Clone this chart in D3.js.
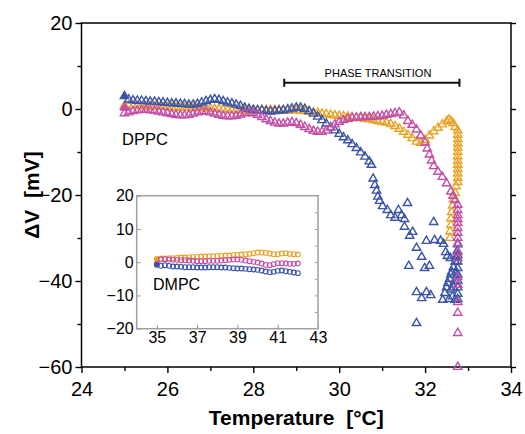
<!DOCTYPE html>
<html>
<head>
<meta charset="utf-8">
<script src="https://cdn.jsdelivr.net/npm/d3@7"></script>
<style>
  body { margin: 0; background: #fff; }
  text { font-family: Arial, "Liberation Sans", sans-serif; fill: #000; }
</style>
</head>
<body>
<svg id="chart" width="525" height="434"></svg>
<script>
// DPPC main panel, [temperature, dV]
const dppcOrange = [
  [25.0, 0.8], [25.1, 0.8], [25.2, 0.7], [25.3, 0.7], [25.4, 0.6], [25.5, 0.6], [25.6, 0.6], [25.7, 0.5],
  [25.8, 0.5], [25.9, 0.5], [26.0, 0.5], [26.1, 0.4], [26.2, 0.4], [26.3, 0.3], [26.4, 0.3], [26.5, 0.3],
  [26.6, 0.2], [26.7, 0.2], [26.8, 0.2], [26.9, 0.2], [27.0, 0.1], [27.1, 0.0], [27.2, 0.0], [27.3, -0.1],
  [27.4, -0.1], [27.5, -0.2], [27.6, -0.2], [27.7, -0.3], [27.8, -0.3], [27.9, -0.3], [28.0, -0.3], [28.1, -0.3],
  [28.2, -0.2], [28.3, -0.2], [28.4, -0.2], [28.5, -0.2], [28.6, -0.2], [28.7, -0.3], [28.8, -0.3], [28.9, -0.3],
  [29.0, -0.3], [29.1, -0.4], [29.2, -0.5], [29.3, -0.6], [29.4, -0.8], [29.5, -0.9], [29.6, -1.1], [29.7, -1.2],
  [29.8, -1.4], [29.9, -1.5], [30.0, -1.6], [30.1, -1.7], [30.2, -1.8], [30.3, -1.9], [30.4, -2.0], [30.5, -2.1],
  [30.6, -2.3], [30.7, -2.4], [30.8, -2.6], [30.9, -2.8], [31.0, -3.0], [31.1, -3.2], [31.2, -3.5], [31.3, -4.0],
  [31.4, -4.6], [31.5, -5.3], [31.6, -6.0], [31.7, -6.8], [31.8, -7.6], [31.9, -7.9], [32.0, -7.2], [32.1, -6.2],
  [32.2, -5.2], [32.3, -4.4], [32.4, -3.6], [32.5, -2.9], [32.55, -2.5], [32.6, -2.8], [32.65, -3.3], [32.7, -4.2],
  [32.76, -5.0], [32.76, -6.0], [32.76, -7.0], [32.76, -8.0], [32.76, -9.0], [32.76, -10.0], [32.76, -11.0],
  [32.76, -12.0], [32.76, -13.0], [32.76, -14.0], [32.76, -15.0], [32.76, -16.0], [32.76, -17.0],
  [32.72, -18.0], [32.7, -19.5], [32.66, -21.0], [32.64, -22.5], [32.62, -24.0], [32.6, -25.5],
  [32.6, -27.0], [32.58, -28.5], [32.58, -30.0]
];

const dppcBlue = [
  [25.0, 3.0], [25.1, 2.2], [25.2, 2.0], [25.3, 1.9], [25.4, 1.9], [25.5, 1.8], [25.6, 1.7], [25.7, 1.7],
  [25.8, 1.6], [25.9, 1.5], [26.0, 1.4], [26.1, 1.3], [26.2, 1.3], [26.3, 1.2], [26.4, 1.1], [26.5, 1.0],
  [26.6, 1.0], [26.7, 1.2], [26.8, 1.5], [26.9, 1.8], [27.0, 2.1], [27.1, 2.3], [27.2, 2.1], [27.3, 1.8],
  [27.4, 1.5], [27.5, 1.3], [27.6, 1.0], [27.7, 0.7], [27.8, 0.3], [27.9, 0.0], [28.0, -0.2], [28.1, -0.3],
  [28.2, -0.3], [28.3, -0.5], [28.4, -0.6], [28.5, -0.5], [28.6, -0.4], [28.7, -0.3], [28.8, -0.1], [28.9, 0.1],
  [29.0, 0.3], [29.1, 0.3], [29.2, 0.0], [29.3, -0.5], [29.4, -1.1], [29.5, -1.8], [29.6, -2.6], [29.7, -3.4],
  [29.8, -4.3], [29.9, -5.0], [30.0, -5.8], [30.1, -6.6], [30.2, -7.3], [30.3, -8.2], [30.4, -9.1], [30.5, -10.1],
  [30.6, -11.1], [30.7, -12.2], [30.75, -13.0],
  [30.79, -16.2], [30.83, -17.7], [30.87, -19.0], [30.9, -20.4], [30.94, -21.4], [31.01, -22.6], [31.12, -23.5],
  [31.2, -24.7], [31.3, -25.3], [31.38, -23.5], [31.45, -24.7], [31.52, -25.6], [31.52, -27.4], [31.59, -21.9],
  [31.62, -36.5], [31.64, -29.5], [31.71, -28.6], [31.8, -32.3], [31.8, -42.6], [31.8, -49.8], [31.92, -34.4],
  [31.92, -44.0], [31.99, -37.0], [32.03, -30.7], [32.03, -42.6], [32.1, -36.5], [32.13, -43.3], [32.2, -26.3],
  [32.22, -30.5], [32.36, -30.7], [32.43, -31.4], [32.48, -33.3], [32.52, -34.2], [32.59, -34.7],
  [32.41, -44.4], [32.46, -42.8], [32.5, -41.5], [32.53, -40.5], [32.57, -39.5], [32.6, -38.5], [32.62, -37.9],
  [32.66, -36.8], [32.7, -35.5], [32.72, -34.5], [32.75, -33.0], [32.76, -31.5], [32.76, -34.0], [32.76, -35.5],
  [32.76, -37.0], [32.76, -38.5], [32.76, -40.0], [32.76, -41.5], [32.76, -43.0], [32.76, -44.2], [32.7, -44.4],
  [32.64, -43.6], [32.56, -44.2], [32.7, -40.0], [32.66, -41.5], [32.72, -38.0], [32.6, -42.0]
];

const dppcMagenta = [
  [25.0, 0.3], [25.0, -1.0], [25.1, -0.8], [25.2, -0.5], [25.3, -0.3], [25.4, -0.2], [25.5, -0.2], [25.6, -0.3],
  [25.7, -0.4], [25.8, -0.6], [25.9, -0.8], [26.0, -1.0], [26.1, -1.2], [26.2, -1.4], [26.3, -1.5], [26.4, -1.5],
  [26.5, -1.4], [26.6, -1.1], [26.7, -0.8], [26.8, -0.6], [26.9, -0.6], [27.0, -0.8], [27.1, -1.1], [27.2, -1.4],
  [27.3, -1.6], [27.4, -1.7], [27.5, -1.7], [27.6, -1.6], [27.7, -1.3], [27.8, -1.0], [27.9, -0.9], [28.0, -1.0],
  [28.1, -1.4], [28.2, -1.9], [28.3, -2.4], [28.4, -2.8], [28.5, -3.2], [28.6, -3.4], [28.7, -3.4], [28.8, -3.2],
  [28.9, -3.1], [29.0, -3.3], [29.1, -3.7], [29.2, -4.2], [29.3, -4.7], [29.4, -5.1], [29.5, -5.3], [29.6, -5.3],
  [29.7, -5.0], [29.8, -4.3], [29.9, -3.6], [30.0, -3.0], [30.1, -2.6], [30.2, -2.3], [30.3, -2.1], [30.4, -2.0],
  [30.5, -1.9], [30.6, -1.9], [30.7, -1.9], [30.8, -1.8], [30.9, -1.7], [31.0, -1.6], [31.1, -1.4], [31.2, -1.2],
  [31.3, -1.0], [31.4, -0.8], [31.5, -1.5], [31.6, -2.8], [31.7, -3.7], [31.8, -4.8], [31.9, -6.2], [32.0, -7.8],
  [32.05, -9.2], [32.1, -10.6], [32.15, -12.0], [32.2, -13.3], [32.3, -14.6], [32.4, -15.8], [32.5, -17.3],
  [32.6, -19.2], [32.65, -20.2], [32.7, -21.2],
  [32.76, -22.3], [32.76, -23.5], [32.76, -24.7], [32.76, -25.6], [32.76, -26.5], [32.76, -27.7], [32.76, -28.8],
  [32.76, -30.0], [32.76, -31.2], [32.76, -33.3], [32.76, -34.7], [32.76, -39.1], [32.76, -40.9], [32.76, -44.9],
  [32.76, -47.4], [32.76, -52.1], [32.76, -60.0]
];

// DMPC inset, [temperature, dV]
const dmpcOrange = [
  [35.0, 1.0], [35.2, 1.1], [35.4, 1.1], [35.6, 1.2], [35.8, 1.2], [36.0, 1.3], [36.2, 1.4], [36.4, 1.4],
  [36.6, 1.5], [36.8, 1.6], [37.0, 1.6], [37.2, 1.7], [37.4, 1.7], [37.6, 1.8], [37.8, 1.8], [38.0, 1.9],
  [38.2, 1.9], [38.4, 2.0], [38.6, 2.0], [38.8, 2.1], [39.0, 2.2], [39.2, 2.3], [39.4, 2.4], [39.6, 2.5],
  [39.8, 2.7], [40.0, 2.9], [40.2, 2.9], [40.4, 2.8], [40.6, 2.6], [40.8, 2.4], [41.0, 2.4], [41.2, 2.6],
  [41.4, 2.7], [41.6, 2.5], [41.8, 2.4], [42.0, 2.3]
];
const dmpcMagenta = [
  [35.0, -0.5], [35.2, 0.8], [35.4, 0.9], [35.6, 0.8], [35.8, 0.7], [36.0, 0.7], [36.2, 0.6], [36.4, 0.6],
  [36.6, 0.5], [36.8, 0.4], [37.0, 0.3], [37.2, 0.3], [37.4, 0.3], [37.6, 0.4], [37.8, 0.4], [38.0, 0.4],
  [38.2, 0.5], [38.4, 0.6], [38.6, 0.7], [38.8, 0.8], [39.0, 0.8], [39.2, 0.7], [39.4, 0.5], [39.6, 0.3],
  [39.8, 0.1], [40.0, -0.1], [40.2, -0.4], [40.4, -0.8], [40.6, -0.9], [40.8, -0.6], [41.0, -0.3], [41.2, -0.3],
  [41.4, -0.4], [41.6, -0.5], [41.8, -0.5], [42.0, -0.4]
];
const dmpcBlue = [
  [35.0, -0.8], [35.2, -1.1], [35.4, -0.9], [35.6, -1.1], [35.8, -1.3], [36.0, -1.3], [36.2, -1.4], [36.4, -1.5],
  [36.6, -1.5], [36.8, -1.5], [37.0, -1.6], [37.2, -1.6], [37.4, -1.6], [37.6, -1.5], [37.8, -1.5], [38.0, -1.5],
  [38.2, -1.6], [38.4, -1.6], [38.6, -1.7], [38.8, -1.8], [39.0, -1.9], [39.2, -1.9], [39.4, -2.0], [39.6, -2.1],
  [39.8, -2.2], [40.0, -2.3], [40.2, -2.5], [40.4, -2.8], [40.6, -3.0], [40.8, -2.9], [41.0, -2.6], [41.2, -2.5],
  [41.4, -2.7], [41.6, -2.9], [41.8, -3.1], [42.0, -3.3]
];

const xMajor = [24, 26, 28, 30, 32, 34];
const xMinor = [25, 27, 29, 31, 33];
const yMajor = [20, 0, -20, -40, -60];
const yMinor = [10, -10, -30, -50];
const insetXTicks = [35, 37, 39, 41, 43];
const insetYTicks = [20, 10, 0, -10, -20];
const phaseRange = [28.72, 32.8];
const phaseLevel = 6.1;

const blue = "#3a54a7";
const orange = "#e9a325";
const magenta = "#c34ea6";

const svg = d3.select("#chart");

const x = d3.scaleLinear().domain([24, 34]).range([81.5, 511]);
const y = d3.scaleLinear().domain([-60, 20]).range([367, 23]);

// axes
const axisStyle = (sel) => {
  sel.select(".domain").remove();
  sel.selectAll("line").attr("stroke", "#000").attr("stroke-width", 1.4);
  sel.selectAll("text").attr("font-size", 20);
};

svg.append("g")
  .attr("transform", `translate(0,${y(-60)})`)
  .call(d3.axisBottom(x).tickValues(xMajor).tickSize(6).tickPadding(9).tickFormat(d3.format("d")))
  .call(axisStyle);
svg.append("g")
  .attr("transform", `translate(0,${y(-60)})`)
  .call(d3.axisBottom(x).tickValues(xMinor).tickSize(4).tickFormat(""))
  .call(axisStyle);
svg.append("g")
  .attr("transform", `translate(${x(24)},0)`)
  .call(d3.axisLeft(y).tickValues(yMajor).tickSize(6).tickPadding(3).tickFormat(d3.format("d")))
  .call(axisStyle);
svg.append("g")
  .attr("transform", `translate(${x(24)},0)`)
  .call(d3.axisLeft(y).tickValues(yMinor).tickSize(4).tickFormat(""))
  .call(axisStyle);
svg.append("g")
  .attr("transform", `translate(${x(34)},0)`)
  .call(d3.axisRight(y).tickValues(yMajor.concat(yMinor)).tickSize(5).tickFormat(""))
  .call(axisStyle);

svg.append("rect")
  .attr("x", x(24)).attr("y", y(20))
  .attr("width", x(34) - x(24)).attr("height", y(-60) - y(20))
  .attr("fill", "none").attr("stroke", "#000").attr("stroke-width", 1.5);

// axis titles
svg.append("text")
  .attr("x", (x(24) + x(34)) / 2).attr("y", 425)
  .attr("text-anchor", "middle")
  .attr("font-size", 21).attr("font-weight", "bold")
  .attr("xml:space", "preserve")
  .text("Temperature  [°C]");

svg.append("text")
  .attr("transform", `translate(39,${(y(20) + y(-60)) / 2}) rotate(-90)`)
  .attr("text-anchor", "middle")
  .attr("font-size", 21).attr("font-weight", "bold")
  .attr("xml:space", "preserve")
  .text("ΔV  [mV]");

// phase transition marker
const phase = svg.append("g").attr("stroke", "#111").attr("stroke-width", 2);
phase.append("line")
  .attr("x1", x(phaseRange[0])).attr("x2", x(phaseRange[1]))
  .attr("y1", y(phaseLevel)).attr("y2", y(phaseLevel));
phaseRange.forEach((t) => {
  phase.append("line")
    .attr("x1", x(t)).attr("x2", x(t))
    .attr("y1", y(phaseLevel) - 4).attr("y2", y(phaseLevel) + 4);
});
svg.append("text")
  .attr("x", 378).attr("y", y(phaseLevel) - 6)
  .attr("text-anchor", "middle").attr("font-size", 11)
  .text("PHASE TRANSITION");

// DPPC markers
const tri = d3.symbol().type(d3.symbolTriangle).size(30);

function drawTriangles(data, color) {
  svg.append("g")
    .selectAll("path")
    .data(data)
    .join("path")
    .attr("d", tri)
    .attr("transform", (d) => `translate(${x(d[0])},${y(d[1])})`)
    .attr("fill", (d, i) => (i === 0 ? color : "none"))
    .attr("stroke", color)
    .attr("stroke-width", 1.4);
}
drawTriangles(dppcOrange, orange);
drawTriangles(dppcBlue, blue);
drawTriangles(dppcMagenta, magenta);

svg.append("text")
  .attr("x", 122).attr("y", 145)
  .attr("font-size", 16.5)
  .text("DPPC");

// DMPC inset
const xi = d3.scaleLinear().domain([34, 43]).range([136.7, 318]);
const yi = d3.scaleLinear().domain([-20, 20]).range([328.7, 195.7]);

const inset = svg.append("g");
inset.append("rect")
  .attr("x", xi(34)).attr("y", yi(20))
  .attr("width", xi(43) - xi(34)).attr("height", yi(-20) - yi(20))
  .attr("fill", "#fff");

const insetAxis = (sel) => {
  sel.select(".domain").remove();
  sel.selectAll("line").attr("stroke", "#999").attr("stroke-width", 1);
  sel.selectAll("text").attr("font-size", 16).attr("fill", "#111");
};
inset.append("g")
  .attr("transform", `translate(0,${yi(-20)})`)
  .call(d3.axisBottom(xi).tickValues(insetXTicks).tickSize(-4).tickPadding(3).tickFormat(d3.format("d")))
  .call(insetAxis);
inset.append("g")
  .attr("transform", `translate(${xi(34)},0)`)
  .call(d3.axisLeft(yi).tickValues(insetYTicks).tickSize(-4).tickPadding(3).tickFormat(d3.format("d")))
  .call(insetAxis);
inset.append("g")
  .attr("transform", `translate(${xi(43)},0)`)
  .call(d3.axisRight(yi).tickValues(d3.range(-15, 20, 5)).tickSize(-3).tickFormat(""))
  .call(insetAxis);

inset.append("rect")
  .attr("x", xi(34)).attr("y", yi(20))
  .attr("width", xi(43) - xi(34)).attr("height", yi(-20) - yi(20))
  .attr("fill", "none").attr("stroke", "#a0a0a0").attr("stroke-width", 1.5);

function drawCircles(data, color) {
  inset.append("g")
    .selectAll("circle")
    .data(data)
    .join("circle")
    .attr("cx", (d) => xi(d[0]))
    .attr("cy", (d) => yi(d[1]))
    .attr("r", 2.4)
    .attr("fill", (d, i) => (i === 0 ? color : "none"))
    .attr("stroke", color)
    .attr("stroke-width", 1.1);
}
drawCircles(dmpcOrange, orange);
drawCircles(dmpcMagenta, magenta);
drawCircles(dmpcBlue, blue);

inset.append("text")
  .attr("x", 153).attr("y", 290)
  .attr("font-size", 16)
  .text("DMPC");
</script>
</body>
</html>
